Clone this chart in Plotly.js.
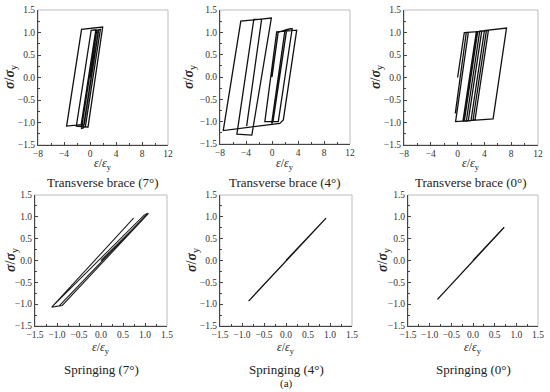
<!DOCTYPE html>
<html>
<head>
<meta charset="utf-8">
<script src="https://cdn.plot.ly/plotly-3.0.1.min.js"></script>
<style>html,body{margin:0;padding:0;background:#fff}#chart{width:550px;height:392px}</style>
</head>
<body>
<div id="chart"></div>
<script>
// ---- data (ε/εy , σ/σy) ----
const tb7_strain = [0, 1.0, 1.3, -0.9, -1.3, 0.95, 1.3, -1.03, -1.3, 1.03, 1.6, -0.72, -2.1, 0.18, 0.9, -1.36, -3.6, -1.3, 1.95, -0.3, -0.6];
const tb7_stress = [0, 1.0, 1.02, -1.05, -1.06, 1.04, 1.06, -1.12, -1.13, 1.05, 1.07, -1.10, -1.08, 1.05, 1.06, -1.05, -1.08, 1.07, 1.12, -1.1, -1.1];

const tb4_strain = [0, 0.95, 2.26, 0.15, -0.05, 2.0, 2.87, 3.0, 3.1, 0.97, -1.1, 0.72, 3.8, 1.74, 1.2, -7.5, -4.8, -0.1, -2.94, -3.1, -5.4, -2.8, -1.6, -3.9];
const tb4_stress = [0, 1.0, 1.06, -1.0, -1.04, 1.05, 1.08, 1.09, 1.08, -1.0, -1.0, 1.01, 1.05, -0.96, -1.04, -1.2, 1.25, 1.32, -1.26, -1.3, -1.28, 1.29, 1.29, -1.1];

const tb0_strain = [0, 1.0, 3.0, 1.0, 0.8, 2.8, 3.6, 1.6, 0.9, 2.9, 4.3, 2.3, 1.3, 3.3, 4.6, 2.6, 2.0, 4.0, 7.3, 5.3, -0.3, 1.6, 1.3, -0.35];
const tb0_stress = [0, 1.0, 1.02, -0.97, -0.97, 1.02, 1.03, -0.96, -0.97, 1.02, 1.04, -0.95, -0.97, 1.03, 1.05, -0.94, -0.96, 1.04, 1.1, -0.92, -0.98, 1.0, 1.0, -0.8];

const sp7_strain = [0, 1.02, 1.08, -0.88, -1.12, 0.98, 1.06, -0.95, -1.12, 0.74];
const sp7_stress = [0, 1.04, 1.08, -1.03, -1.07, 1.04, 1.08, -1.04, -1.07, 0.97];

const sp4_strain = [0, 0.91, -0.85];
const sp4_stress = [0, 0.97, -0.93];

const sp0_strain = [0, 0.72, -0.82];
const sp0_stress = [0, 0.76, -0.89];

// ---- tick labels ----
const yTicks = [-1.5, -1.0, -0.5, 0.0, 0.5, 1.0, 1.5];
const yTickText = ["−1.5", "−1.0", "−0.5", "0.0", "0.5", "1.0", "1.5"];
const xTopTicks = [-8, -4, 0, 4, 8, 12];
const xTopText = ["−8", "−4", "0", "4", "8", "12"];
const xBotTicks = [-1.5, -1.0, -0.5, 0.0, 0.5, 1.0, 1.5];
const xBotText = ["−1.5", "−1.0", "−0.5", "0.0", "0.5", "1.0", "1.5"];

const captions = ["Transverse brace (7°)", "Transverse brace (4°)", "Transverse brace (0°)",
                  "Springing (7°)", "Springing (4°)", "Springing (0°)"];

const F = "'Liberation Serif', 'Times New Roman', serif";
const W = 550, H = 392;

// pixel boxes of each panel [left, right, top, bottom]
const boxes = [
  [38, 168, 10, 145], [220, 350, 10, 144], [404, 538, 10, 145],
  [35, 167, 195, 326], [220, 352, 195, 326], [408, 538, 195, 326]
];
const series = [
  [tb7_strain, tb7_stress], [tb4_strain, tb4_stress], [tb0_strain, tb0_stress],
  [sp7_strain, sp7_stress], [sp4_strain, sp4_stress], [sp0_strain, sp0_stress]
];

const traces = [];
const layout = {
  width: W, height: H,
  margin: {l: 0, r: 0, t: 0, b: 0},
  paper_bgcolor: '#fff', plot_bgcolor: '#fff',
  showlegend: false,
  font: {family: F, size: 10, color: '#222'},
  shapes: [], annotations: []
};

function axBase() {
  return {
    showline: true, linecolor: '#444', linewidth: 1, mirror: false,
    ticks: 'inside', ticklen: 3, tickcolor: '#444', tickwidth: 1,
    showgrid: false, zeroline: false,
    tickfont: {family: F, size: 9.5, color: '#333'},
    fixedrange: true
  };
}

boxes.forEach((b, i) => {
  const n = i + 1;
  const xa = 'xaxis' + (n === 1 ? '' : n), ya = 'yaxis' + (n === 1 ? '' : n);
  const xr = 'x' + (n === 1 ? '' : n), yr = 'y' + (n === 1 ? '' : n);
  const top = i < 3;
  const x = axBase();
  x.domain = [b[0] / W, b[1] / W];
  x.anchor = yr;
  if (top) {
    x.range = [-8, 12]; x.tickvals = xTopTicks; x.ticktext = xTopText;
    x.minor = {ticks: 'inside', ticklen: 2, tickcolor: '#444', dtick: 2, tick0: 0};
  } else {
    x.range = [-1.5, 1.5]; x.tickvals = xBotTicks; x.ticktext = xBotText;
    x.minor = {ticks: 'inside', ticklen: 2, tickcolor: '#444', dtick: 0.25, tick0: 0};
  }
  const y = axBase();
  y.domain = [1 - b[3] / H, 1 - b[2] / H];
  y.anchor = xr;
  y.range = [-1.5, 1.5]; y.tickvals = yTicks; y.ticktext = yTickText;
  y.minor = {ticks: 'inside', ticklen: 2, tickcolor: '#444', dtick: 0.25, tick0: 0};
  layout[xa] = x; layout[ya] = y;

  traces.push({
    x: series[i][0], y: series[i][1], xaxis: xr, yaxis: yr,
    type: 'scatter', mode: 'lines',
    line: {color: i === 3 ? '#222' : '#111', width: i === 3 ? 1.1 : 1.3},
    hoverinfo: 'skip'
  });

  // light frame (top/right appear grey)
  layout.shapes.push({
    type: 'rect', xref: xr + ' domain', yref: yr + ' domain',
    x0: 0, x1: 1, y0: 0, y1: 1, line: {color: '#bbb', width: 1}, layer: 'below'
  });

  const cx = (b[0] + b[1]) / 2 / W;
  const tY = top ? 1 - 164 / H : 1 - 348 / H;
  layout.annotations.push({
    xref: 'paper', yref: 'paper', x: cx, y: tY, xanchor: 'center', yanchor: 'middle',
    showarrow: false, text: '<i>ε</i>/<i>ε</i><sub>y</sub>',
    font: {family: F, size: 12, color: '#222'}
  });
  const yTitleX = [11, 190, 377, 11, 192, 383][i];
  const yTitleY = top ? 77 : 260;
  layout.annotations.push({
    xref: 'paper', yref: 'paper', x: yTitleX / W, y: 1 - yTitleY / H,
    xanchor: 'center', yanchor: 'middle', textangle: -90,
    showarrow: false, text: '<b><i>σ</i></b>/<b><i>σ</i></b><sub>y</sub>',
    font: {family: F, size: 14, color: '#222'}
  });
  const capY = top ? 182 : 369;
  layout.annotations.push({
    xref: 'paper', yref: 'paper', x: cx, y: 1 - capY / H,
    xanchor: 'center', yanchor: 'middle', showarrow: false,
    text: captions[i], font: {family: F, size: 13, color: '#222'}
  });
});

layout.annotations.push({
  xref: 'paper', yref: 'paper', x: 286 / W, y: 1 - 383 / H,
  xanchor: 'center', yanchor: 'middle', showarrow: false,
  text: '(a)', font: {family: F, size: 11, color: '#222'}
});

Plotly.newPlot('chart', traces, layout, {displayModeBar: false, staticPlot: true});
</script>
</body>
</html>
